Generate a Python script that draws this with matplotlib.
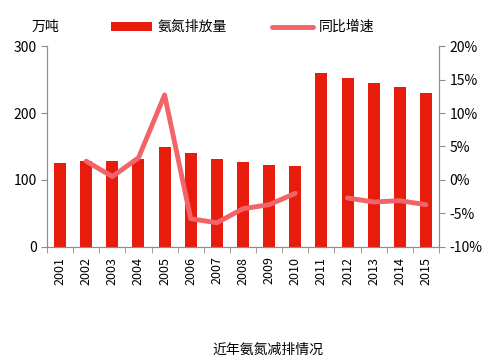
import numpy as np
import matplotlib.pyplot as plt
from matplotlib.ticker import FuncFormatter, FixedLocator

plt.rcParams['font.family'] = ['Noto Sans CJK SC', 'DejaVu Sans']

years = ["2001", "2002", "2003", "2004", "2005", "2006", "2007", "2008",
         "2009", "2010", "2011", "2012", "2013", "2014", "2015"]
# 氨氮排放量 (万吨)
emissions = [125, 128, 129, 132, 149, 140, 131, 127, 123, 121,
             260, 253, 245, 239, 230]
# 同比增速 (%), 2001 和 2011 无数据
growth = [np.nan, 2.8, 0.5, 3.3, 12.7, -5.8, -6.4, -4.3, -3.7, -2.0,
          np.nan, -2.7, -3.3, -3.1, -3.7]

fig = plt.figure(figsize=(5, 3.63), dpi=100)
ax = fig.add_axes([0.094, 0.32, 0.784, 0.553])
x = np.arange(len(years))

bars = ax.bar(x, emissions, width=0.46, color="#E81C0C", label="氨氮排放量", zorder=2)
ax.set_ylim(0, 300)
ax.set_xlim(-0.5, len(years) - 0.5)
ax.set_yticks([0, 100, 200, 300])
ax.set_xticks(x)
ax.set_xticklabels(years, rotation=90, fontsize=9)
ax.xaxis.set_minor_locator(FixedLocator(np.arange(-0.5, len(years), 1)))
ax.tick_params(axis="x", which="major", length=0, pad=7)
ax.tick_params(axis="x", which="minor", length=4, color="#8c8c8c", direction="out")
ax.tick_params(axis="y", length=4, color="#8c8c8c", labelsize=10)

ax2 = ax.twinx()
line, = ax2.plot(x, growth, color="#F26468", lw=3.5, label="同比增速",
                 solid_capstyle="round", solid_joinstyle="round")
ax2.set_ylim(-10, 20)
ax2.set_yticks(range(-10, 21, 5))
ax2.yaxis.set_major_formatter(FuncFormatter(lambda v, p: f"{v:.0f}%"))
ax2.tick_params(axis="y", length=4, color="#8c8c8c", labelsize=10)

for a in (ax, ax2):
    a.spines["top"].set_visible(False)
    for s in ("left", "right", "bottom"):
        a.spines[s].set_color("#8c8c8c")

fig.text(0.09, 0.925, "万吨", fontsize=10, ha="center", va="center")
fig.legend(handles=[bars, line], loc="center", bbox_to_anchor=(0.485, 0.925),
           ncol=2, frameon=False, fontsize=10, handlelength=3.0, handleheight=0.6,
           columnspacing=3.2, handletextpad=0.4)
fig.text(0.535, 0.035, "近年氨氮减排情况", fontsize=10, ha="center", va="center")

fig.savefig("out.png", dpi=100)
